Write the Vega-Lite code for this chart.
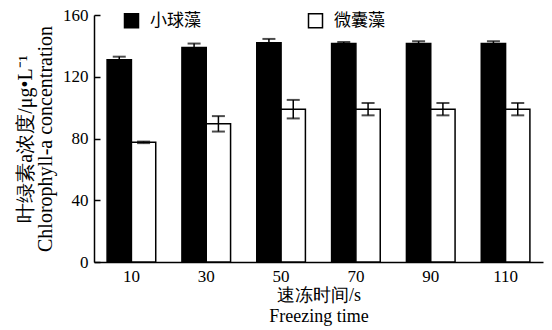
{
  "$schema": "https://vega.github.io/schema/vega-lite/v6.json",
  "autosize": "none",
  "width": 449,
  "height": 247,
  "padding": {"left": 94, "top": 15, "right": 9, "bottom": 68},
  "background": "white",
  "config": {
    "view": {"stroke": null},
    "axis": {"labelFont": "Liberation Serif", "titleFont": "Liberation Serif", "labelColor": "black", "titleColor": "black", "domainColor": "black", "tickColor": "black", "grid": false, "labelFontSize": 17, "titleFontSize": 18, "titleFontWeight": "normal", "domainWidth": 1.5, "tickWidth": 1.5}
  },
  "data": {"values": [
    {"time": "10", "alga": "小球藻", "value": 131, "lo": 129, "hi": 133},
    {"time": "10", "alga": "微囊藻", "value": 77.5, "lo": 77, "hi": 78},
    {"time": "30", "alga": "小球藻", "value": 139, "lo": 136.5, "hi": 141.5},
    {"time": "30", "alga": "微囊藻", "value": 89.5, "lo": 84.5, "hi": 94.5},
    {"time": "50", "alga": "小球藻", "value": 142, "lo": 139.5, "hi": 144.5},
    {"time": "50", "alga": "微囊藻", "value": 99, "lo": 93, "hi": 105},
    {"time": "70", "alga": "小球藻", "value": 141.5, "lo": 140.5, "hi": 142.5},
    {"time": "70", "alga": "微囊藻", "value": 99, "lo": 95, "hi": 103},
    {"time": "90", "alga": "小球藻", "value": 141.5, "lo": 140, "hi": 143},
    {"time": "90", "alga": "微囊藻", "value": 99, "lo": 95, "hi": 103},
    {"time": "110", "alga": "小球藻", "value": 141.5, "lo": 140, "hi": 143},
    {"time": "110", "alga": "微囊藻", "value": 99, "lo": 95, "hi": 103}
  ]},
  "encoding": {
    "x": {"field": "time", "type": "nominal", "sort": ["10","30","50","70","90","110"],
      "scale": {"paddingInner": 0.35, "paddingOuter": 0.175},
      "axis": {"labelAngle": 0, "ticks": false, "labelPadding": 6, "title": ["速冻时间/s", "Freezing time"], "titlePadding": 2, "titleLineHeight": 21}},
    "xOffset": {"field": "alga", "type": "nominal", "sort": ["小球藻", "微囊藻"]}
  },
  "layer": [
    {
      "mark": {"type": "bar", "stroke": "black", "strokeWidth": 1.5},
      "encoding": {
        "y": {"field": "value", "type": "quantitative", "scale": {"domain": [0, 160]},
          "axis": {"values": [0, 40, 80, 120, 160], "tickSize": -6, "labelPadding": 12, "title": ["叶绿素a浓度/μg•L⁻¹", "Chlorophyll-a concentration"], "titleFontSize": 20, "titlePadding": 7, "titleLineHeight": 20}},
        "fill": {"field": "alga", "type": "nominal", "sort": ["小球藻", "微囊藻"],
          "scale": {"domain": ["小球藻", "微囊藻"], "range": ["black", "white"]},
          "legend": {"orient": "none", "legendX": 29, "legendY": -3, "direction": "horizontal", "title": null, "symbolType": "square", "symbolSize": 196, "symbolStrokeColor": "black", "symbolStrokeWidth": 1.5, "labelFont": "Noto Sans CJK SC", "labelFontSize": 17, "labelColor": "black", "labelOffset": 10, "columnPadding": 104}}
      }
    },
    {
      "mark": {"type": "rule", "color": "black", "strokeWidth": 1.5},
      "encoding": {"y": {"field": "lo", "type": "quantitative"}, "y2": {"field": "hi"}}
    },
    {
      "mark": {"type": "tick", "color": "black", "thickness": 2, "size": 13},
      "encoding": {"y": {"field": "lo", "type": "quantitative"}}
    },
    {
      "mark": {"type": "tick", "color": "black", "thickness": 2, "size": 13},
      "encoding": {"y": {"field": "hi", "type": "quantitative"}}
    }
  ]
}
